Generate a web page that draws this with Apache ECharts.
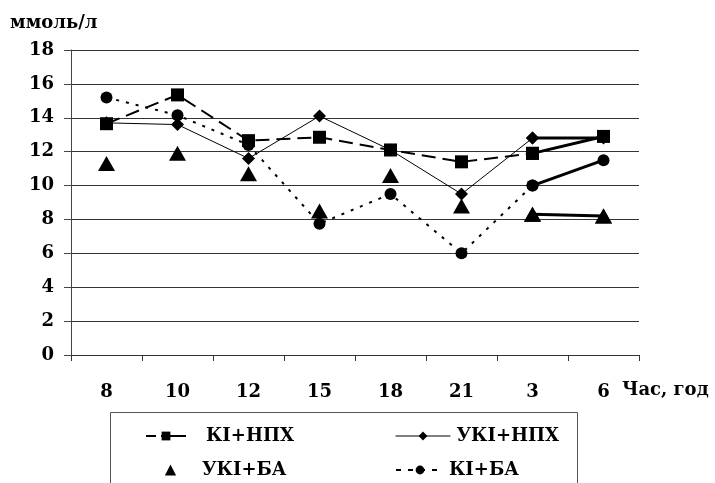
<!DOCTYPE html>
<html><head><meta charset="utf-8">
<script src="https://cdn.jsdelivr.net/npm/echarts@6/dist/echarts.min.js"></script>
<style>html,body{margin:0;padding:0;background:#fff}#c{width:715px;height:483px}</style>
</head><body><div id="c"></div>
<script>
const categories = ['8','10','12','15','18','21','3','6'];
const kiNpx  = [13.65, 15.35, 12.65, 12.85, 12.1, 11.4, 11.9, 12.9];
const ukiNpx = [13.7, 13.6, 11.6, 14.1, 12.1, 9.5, 12.8, 12.8];
const ukiBa  = [11.3, 11.9, 10.7, 8.5, 10.6, 8.8, 8.3, 8.2];
const kiBa   = [15.2, 14.15, 12.4, 7.75, 9.5, 6.0, 10.0, 11.5];
const yTicks = [0,2,4,6,8,10,12,14,16,18];
const names = ['КІ+НПХ','УКІ+НПХ','УКІ+БА','КІ+БА'];
const tailStart = 6;

const font = 'DejaVu Serif';
const tail = arr => arr.map((v,i)=> i>=tailStart ? v : null);
const head = arr => arr.map((v,i)=> i<=tailStart ? v : null);
const chart = echarts.init(document.getElementById('c'));
const labelStyle = {fontFamily: font, fontWeight: 'bold', fontSize: 18, color: '#000'};
function legendAt(name, left, top, w, h, gap, lineStyle){
  const o = {data:[name], left, top, padding: 0, itemWidth: w, itemHeight: h, itemGap: 0,
    textStyle: {fontFamily: font, fontWeight: 'bold', fontSize: 18, color:'#000', padding:[0,0,0,gap]}, selectedMode:false};
  if (lineStyle) o.lineStyle = lineStyle;
  return o;
}
chart.setOption({
  animation: false,
  backgroundColor: '#fff',
  grid: {left: 71, right: 76, top: 50, bottom: 128},
  xAxis: {type: 'category', data: categories, boundaryGap: true,
    axisLine: {lineStyle: {color: '#333', width: 1}},
    axisTick: {show: true, length: 6, lineStyle: {color: '#333'}},
    axisLabel: Object.assign({margin: 28}, labelStyle)},
  yAxis: {type: 'value', min: yTicks[0], max: yTicks[yTicks.length-1], interval: 2,
    axisLine: {show: true, lineStyle: {color: '#444', width: 1}},
    axisTick: {show: true, length: 7, lineStyle: {color: '#444'}},
    splitLine: {lineStyle: {color: '#333', width: 1}},
    axisLabel: Object.assign({margin: 17}, labelStyle)},
  legend: [
    legendAt(names[0], 145, 427, 40, 11, 15, {type:[10,5,25], width:2}),
    legendAt(names[1], 395, 427, 55, 11, 1, {width:1}),
    legendAt(names[2], 163, 461, 15, 14, 19),
    legendAt(names[3], 395, 461, 48, 11, 0, {type:[5,7], width:2})
  ],
  graphic: [
    {type:'rect', shape:{x:110.5, y:412.5, width:467, height:80}, style:{fill:'none', stroke:'#555', lineWidth:1}, z:-1},
    {type:'text', left: 10, top: 14, style:{text:'ммоль/л', font:'bold 18px "DejaVu Serif"', fill:'#000'}},
    {type:'text', left: 622, top: 381, style:{text:'Час, год', font:'bold 18px "DejaVu Serif"', fill:'#000'}}
  ],
  series: [
    {name: names[0], type:'line', data: head(kiNpx), symbol:'rect', symbolSize: 13,
      itemStyle:{color:'#000'}, lineStyle:{color:'#000', width:2, type:[14,7]}, z:3},
    {name: names[1], type:'line', data: head(ukiNpx), symbol:'diamond', symbolSize: 13,
      itemStyle:{color:'#000'}, lineStyle:{color:'#000', width:1}, z:4},
    {name: names[2], type:'line', data: ukiBa, symbol:'triangle', symbolSize: [17,15],
      itemStyle:{color:'#000'}, lineStyle:{width:0, opacity:0}, z:2},
    {name: names[3], type:'line', data: head(kiBa), symbol:'circle', symbolSize: 12,
      itemStyle:{color:'#000'}, lineStyle:{color:'#000', width:2, type:[3,7]}, z:3},
    {name:'t0', type:'line', data: tail(kiNpx), symbol:'rect', symbolSize:13, itemStyle:{color:'#000'}, lineStyle:{color:'#000', width:3}, z:3},
    {name:'t1', type:'line', data: tail(ukiNpx), symbol:'diamond', symbolSize:13, itemStyle:{color:'#000'}, lineStyle:{color:'#000', width:3}, z:3},
    {name:'t2', type:'line', data: tail(ukiBa), symbol:'triangle', symbolSize:[17,15], itemStyle:{color:'#000'}, lineStyle:{color:'#000', width:3}, z:3},
    {name:'t3', type:'line', data: tail(kiBa), symbol:'circle', symbolSize:12, itemStyle:{color:'#000'}, lineStyle:{color:'#000', width:3}, z:3}
  ]
});
</script></body></html>
